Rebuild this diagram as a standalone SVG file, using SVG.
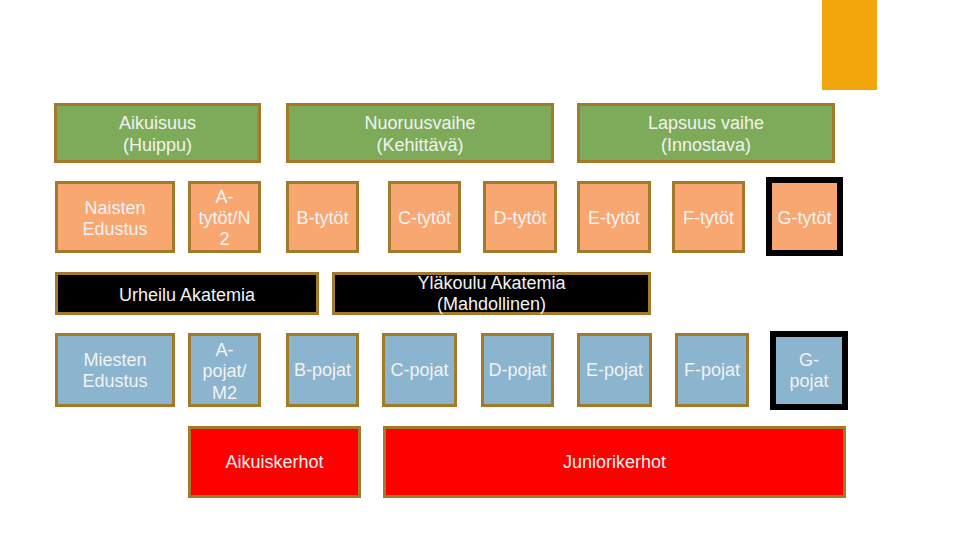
<svg xmlns="http://www.w3.org/2000/svg" width="960" height="540" viewBox="0 0 960 540">
<style>
  .box { stroke: #a27a2a; stroke-width: 3; }
  .green { fill: #7eab59; }
  .orange { fill: #f9a771; }
  .blue { fill: #8bb5cf; }
  .black { fill: #000000; }
  .red { fill: #ff0000; }
  .thick { stroke: #000000; stroke-width: 6; }
  text { font-family: "Liberation Sans", Arial, sans-serif; font-size: 18px; fill: #f2f2f2; text-anchor: middle; }
</style>
<rect width="960" height="540" fill="#ffffff"/>
<rect id="accent" x="822" y="0" width="55" height="90" fill="#f2a60c"/>

<g id="aikuisuus"><rect class="box green" x="55.5" y="104.5" width="204" height="57"/><text x="157.5" y="129">Aikuisuus</text><text x="157.5" y="151">(Huippu)</text></g>
<g id="nuoruusvaihe"><rect class="box green" x="287.5" y="104.5" width="265" height="57"/><text x="420" y="129">Nuoruusvaihe</text><text x="420" y="151">(Kehittävä)</text></g>
<g id="lapsuus"><rect class="box green" x="578.5" y="104.5" width="255" height="57"/><text x="706" y="129">Lapsuus vaihe</text><text x="706" y="151">(Innostava)</text></g>

<g id="naisten"><rect class="box orange" x="56.5" y="182.5" width="117" height="69"/><text x="115" y="214">Naisten</text><text x="115" y="235">Edustus</text></g>
<g id="a-tytot"><rect class="box orange" x="189.5" y="182.5" width="70" height="69"/><text x="224.5" y="203">A-</text><text x="224.5" y="224">tytöt/N</text><text x="224.5" y="245">2</text></g>
<g id="b-tytot"><rect class="box orange" x="287.5" y="182.5" width="70" height="69"/><text x="322.5" y="224">B-tytöt</text></g>
<g id="c-tytot"><rect class="box orange" x="389.5" y="182.5" width="70" height="69"/><text x="424.5" y="224">C-tytöt</text></g>
<g id="d-tytot"><rect class="box orange" x="484.5" y="182.5" width="71" height="69"/><text x="520" y="224">D-tytöt</text></g>
<g id="e-tytot"><rect class="box orange" x="578.5" y="182.5" width="71" height="69"/><text x="614" y="224">E-tytöt</text></g>
<g id="f-tytot"><rect class="box orange" x="673.5" y="182.5" width="70" height="69"/><text x="708.5" y="224">F-tytöt</text></g>
<g id="g-tytot"><rect class="thick orange" x="769" y="180" width="71" height="73"/><text x="804.5" y="224">G-tytöt</text></g>

<g id="urheilu"><rect class="box black" x="56.5" y="273.5" width="261" height="40"/><text x="187" y="301">Urheilu Akatemia</text></g>
<g id="ylakoulu"><rect class="box black" x="333.5" y="273.5" width="316" height="40"/><text x="491.5" y="289">Yläkoulu Akatemia</text><text x="491.5" y="310">(Mahdollinen)</text></g>

<g id="miesten"><rect class="box blue" x="56.5" y="334.5" width="117" height="71"/><text x="115" y="366">Miesten</text><text x="115" y="387">Edustus</text></g>
<g id="a-pojat"><rect class="box blue" x="189.5" y="334.5" width="70" height="71"/><text x="224.5" y="356">A-</text><text x="224.5" y="377">pojat/</text><text x="224.5" y="399">M2</text></g>
<g id="b-pojat"><rect class="box blue" x="287.5" y="334.5" width="70" height="71"/><text x="322.5" y="376">B-pojat</text></g>
<g id="c-pojat"><rect class="box blue" x="383.5" y="334.5" width="72" height="71"/><text x="419.5" y="376">C-pojat</text></g>
<g id="d-pojat"><rect class="box blue" x="482.5" y="334.5" width="70" height="71"/><text x="517.5" y="376">D-pojat</text></g>
<g id="e-pojat"><rect class="box blue" x="578.5" y="334.5" width="72" height="71"/><text x="614.5" y="376">E-pojat</text></g>
<g id="f-pojat"><rect class="box blue" x="676.5" y="334.5" width="71" height="71"/><text x="712" y="376">F-pojat</text></g>
<g id="g-pojat"><rect class="thick blue" x="773" y="334" width="72" height="73"/><text x="809" y="366">G-</text><text x="809" y="387">pojat</text></g>

<g id="aikuiskerhot"><rect class="box red" x="189.5" y="427.5" width="170" height="69"/><text x="274.5" y="468">Aikuiskerhot</text></g>
<g id="juniorikerhot"><rect class="box red" x="384.5" y="427.5" width="460" height="69"/><text x="614.5" y="468">Juniorikerhot</text></g>

<g id="connectors"></g>
</svg>
